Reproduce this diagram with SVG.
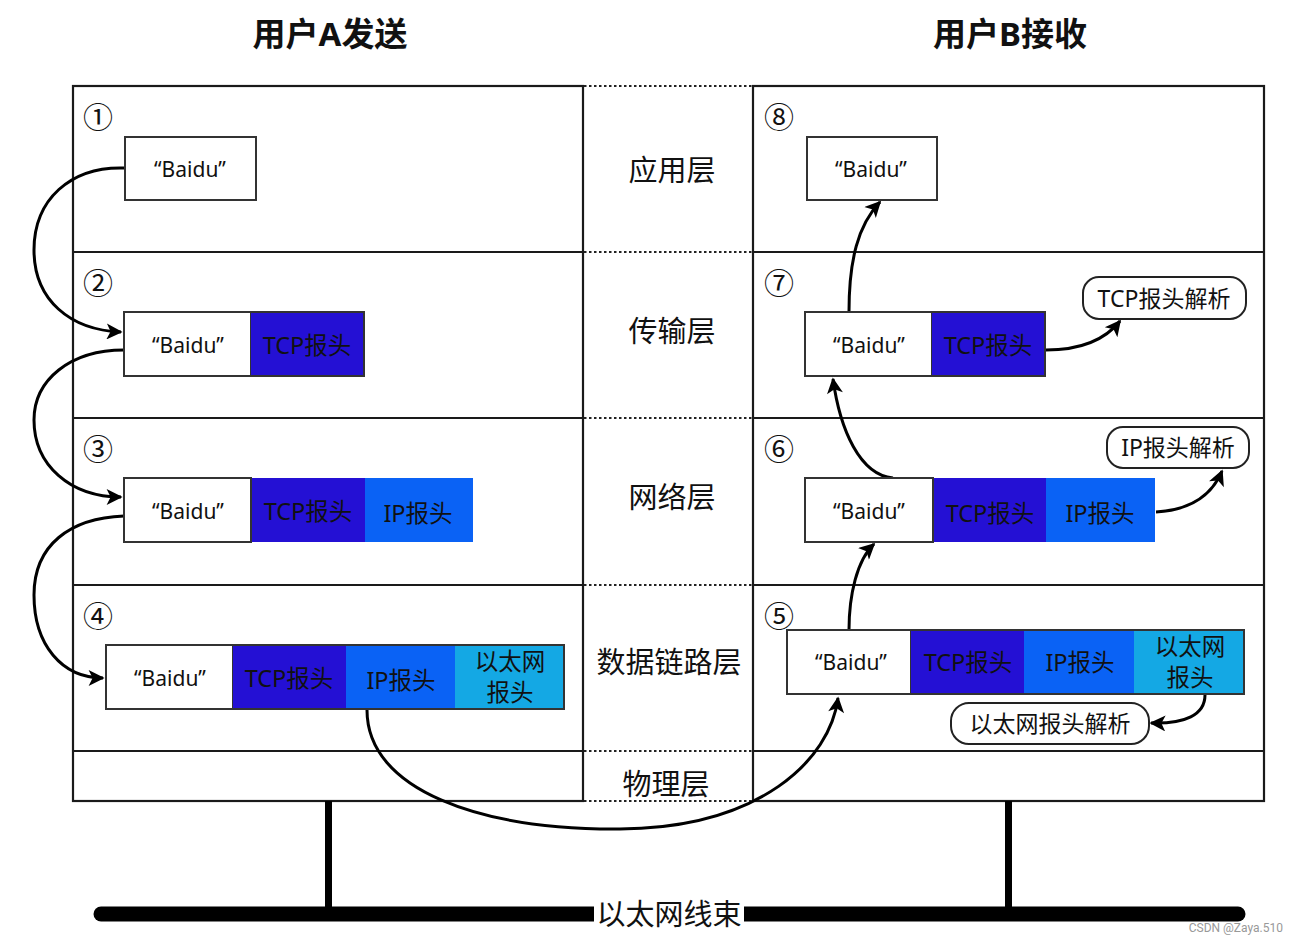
<svg xmlns="http://www.w3.org/2000/svg" width="1298" height="945" viewBox="0 0 1298 945">
<defs>
<style>
.frame{fill:none;stroke:#1a1a1a;stroke-width:2.2}
.dot{stroke:#222;stroke-width:2;stroke-dasharray:2.5,2.5}
.cell{stroke:#333;stroke-width:2}
.w{fill:#fff}
.tcp{fill:#2410d4}
.ip{fill:#0a62f5}
.eth{fill:#14a8e4}
.txt{font-family:"Noto Sans","Noto Sans CJK SC",sans-serif;fill:#111;text-anchor:middle;dominant-baseline:central}
.bd{font-size:21px}
.cn{font-size:23.5px}
.pl{font-size:23px}
.lay{font-size:29px}
.num{font-size:30px}
.title{font-size:33px;font-weight:bold}
.conn{fill:none;stroke:#000;stroke-width:3}
.pill{fill:#fff;stroke:#222;stroke-width:2}
</style>
<marker id="ah" viewBox="0 0 10 10" refX="9" refY="5" markerWidth="20" markerHeight="16" markerUnits="userSpaceOnUse" orient="auto">
<path d="M0,0 L10,5 L0,10 L2.5,5 z" fill="#000"/>
</marker>
</defs>
<rect width="1298" height="945" fill="#fff"/>

<g id="titles">
<text class="txt title" x="330" y="33">用户A发送</text>
<text class="txt title" x="1010" y="33">用户B接收</text>
</g>

<g id="frame">
<rect class="frame" x="73" y="86" width="510" height="715"/>
<rect class="frame" x="753" y="86" width="511" height="715"/>
<line class="frame" x1="73" y1="252" x2="583" y2="252"/>
<line class="frame" x1="73" y1="418" x2="583" y2="418"/>
<line class="frame" x1="73" y1="585" x2="583" y2="585"/>
<line class="frame" x1="73" y1="751" x2="583" y2="751"/>
<line class="frame" x1="753" y1="252" x2="1264" y2="252"/>
<line class="frame" x1="753" y1="418" x2="1264" y2="418"/>
<line class="frame" x1="753" y1="585" x2="1264" y2="585"/>
<line class="frame" x1="753" y1="751" x2="1264" y2="751"/>
<line class="dot" x1="584" y1="86" x2="752" y2="86"/>
<line class="dot" x1="584" y1="252" x2="752" y2="252"/>
<line class="dot" x1="584" y1="418" x2="752" y2="418"/>
<line class="dot" x1="584" y1="585" x2="752" y2="585"/>
<line class="dot" x1="584" y1="751" x2="752" y2="751"/>
<line class="dot" x1="584" y1="801" x2="752" y2="801"/>
</g>

<g id="layers">
<text class="txt lay" x="672" y="169">应用层</text>
<text class="txt lay" x="672" y="330">传输层</text>
<text class="txt lay" x="672" y="496">网络层</text>
<text class="txt lay" x="669" y="661">数据链路层</text>
<text class="txt lay" x="666" y="783">物理层</text>
</g>

<g id="cable">
<rect x="325" y="801" width="7" height="112" fill="#000"/>
<rect x="1005" y="801" width="7" height="112" fill="#000"/>
<line x1="101" y1="914" x2="1238" y2="914" stroke="#000" stroke-width="15" stroke-linecap="round"/>
<rect x="594" y="894" width="150" height="40" fill="#fff"/>
<text class="txt lay" x="669" y="913">以太网线束</text>
</g>

<g id="connectors">
<path class="conn" marker-end="url(#ah)" d="M125,168 C70,166 34,200 34,250 C34,300 70,330 121,332"/>
<path class="conn" marker-end="url(#ah)" d="M124,350 C70,350 34,380 34,420 C34,465 70,497 121,497"/>
<path class="conn" marker-end="url(#ah)" d="M124,516 C70,518 34,545 34,595 C34,645 62,678 103,678"/>
<path class="conn" marker-end="url(#ah)" d="M367,710 C367,790 480,830 620,829 C760,828 830,760 838,698"/>
<path class="conn" marker-end="url(#ah)" d="M849,630 C849,595 857,560 874,544"/>
<path class="conn" marker-end="url(#ah)" d="M893,478 C860,475 840,430 833,379"/>
<path class="conn" marker-end="url(#ah)" d="M849,312 C849,260 858,225 880,202"/>
<path class="conn" marker-end="url(#ah)" d="M1046,350 C1080,350 1105,340 1120,321"/>
<path class="conn" marker-end="url(#ah)" d="M1156,512 C1190,510 1212,495 1222,471"/>
<path class="conn" marker-end="url(#ah)" d="M1205,695 C1205,715 1185,724 1151,723"/>
</g>

<g id="node1">
<text class="txt num" x="98" y="116">①</text>
<rect class="cell w" x="125" y="137" width="131" height="63"/>
<text class="txt bd" x="190" y="169">“Baidu”</text>
</g>

<g id="node2">
<text class="txt num" x="98" y="282">②</text>
<rect class="cell w" x="124" y="312" width="127" height="64"/>
<rect class="tcp" x="251" y="312" width="113" height="64"/>
<rect x="124" y="312" width="240" height="64" fill="none" stroke="#333" stroke-width="2"/>
<text class="txt bd" x="188" y="345">“Baidu”</text>
<text class="txt cn" x="307" y="345">TCP报头</text>
</g>

<g id="node3">
<text class="txt num" x="98" y="448">③</text>
<rect class="cell w" x="124" y="478" width="127" height="64"/>
<rect class="tcp" x="251" y="478" width="114" height="64"/>
<rect class="ip" x="365" y="478" width="108" height="64"/>
<rect x="124" y="478" width="127" height="64" fill="none" stroke="#333" stroke-width="2"/>
<text class="txt bd" x="188" y="511">“Baidu”</text>
<text class="txt cn" x="308" y="511">TCP报头</text>
<text class="txt cn" x="418" y="513">IP报头</text>
</g>

<g id="node4">
<text class="txt num" x="98" y="615">④</text>
<rect class="cell w" x="106" y="645" width="127" height="64"/>
<rect class="tcp" x="233" y="645" width="113" height="64"/>
<rect class="ip" x="346" y="645" width="109" height="64"/>
<rect class="eth" x="455" y="645" width="109" height="64"/>
<rect x="106" y="645" width="458" height="64" fill="none" stroke="#333" stroke-width="2"/>
<text class="txt bd" x="170" y="678">“Baidu”</text>
<text class="txt cn" x="289" y="678">TCP报头</text>
<text class="txt cn" x="401" y="680">IP报头</text>
<text class="txt cn" x="510" y="661">以太网</text>
<text class="txt cn" x="510" y="692">报头</text>
</g>

<g id="node8">
<text class="txt num" x="779" y="116">⑧</text>
<rect class="cell w" x="807" y="137" width="130" height="63"/>
<text class="txt bd" x="871" y="169">“Baidu”</text>
</g>

<g id="node7">
<text class="txt num" x="779" y="282">⑦</text>
<rect class="cell w" x="805" y="312" width="127" height="64"/>
<rect class="tcp" x="932" y="311" width="113" height="65"/>
<rect x="805" y="312" width="240" height="64" fill="none" stroke="#333" stroke-width="2"/>
<text class="txt bd" x="869" y="345">“Baidu”</text>
<text class="txt cn" x="988" y="345">TCP报头</text>
</g>

<g id="tcpparse">
<rect class="pill" x="1083" y="277" width="163" height="42" rx="16"/>
<text class="txt pl" x="1164" y="298">TCP报头解析</text>
</g>

<g id="node6">
<text class="txt num" x="779" y="448">⑥</text>
<rect class="cell w" x="805" y="478" width="128" height="64"/>
<rect class="tcp" x="933" y="478" width="113" height="64"/>
<rect class="ip" x="1046" y="478" width="109" height="64"/>
<rect x="805" y="478" width="128" height="64" fill="none" stroke="#333" stroke-width="2"/>
<text class="txt bd" x="869" y="511">“Baidu”</text>
<text class="txt cn" x="990" y="513">TCP报头</text>
<text class="txt cn" x="1100" y="513">IP报头</text>
</g>

<g id="ipparse">
<rect class="pill" x="1107" y="427" width="142" height="41" rx="16"/>
<text class="txt pl" x="1178" y="447">IP报头解析</text>
</g>

<g id="node5">
<text class="txt num" x="779" y="615">⑤</text>
<rect class="cell w" x="787" y="630" width="124" height="64"/>
<rect class="tcp" x="911" y="630" width="113" height="64"/>
<rect class="ip" x="1024" y="630" width="110" height="64"/>
<rect class="eth" x="1134" y="630" width="110" height="64"/>
<rect x="787" y="630" width="457" height="64" fill="none" stroke="#333" stroke-width="2"/>
<text class="txt bd" x="851" y="662">“Baidu”</text>
<text class="txt cn" x="968" y="662">TCP报头</text>
<text class="txt cn" x="1080" y="662">IP报头</text>
<text class="txt cn" x="1190" y="646">以太网</text>
<text class="txt cn" x="1190" y="677">报头</text>
</g>

<g id="ethparse">
<rect class="pill" x="951" y="703" width="198" height="41" rx="18"/>
<text class="txt pl" x="1050" y="723">以太网报头解析</text>
</g>

<text x="1283" y="928" font-family="Roboto,sans-serif" font-size="12" fill="#999" text-anchor="end" dominant-baseline="central">CSDN @Zaya.510</text>
</svg>
